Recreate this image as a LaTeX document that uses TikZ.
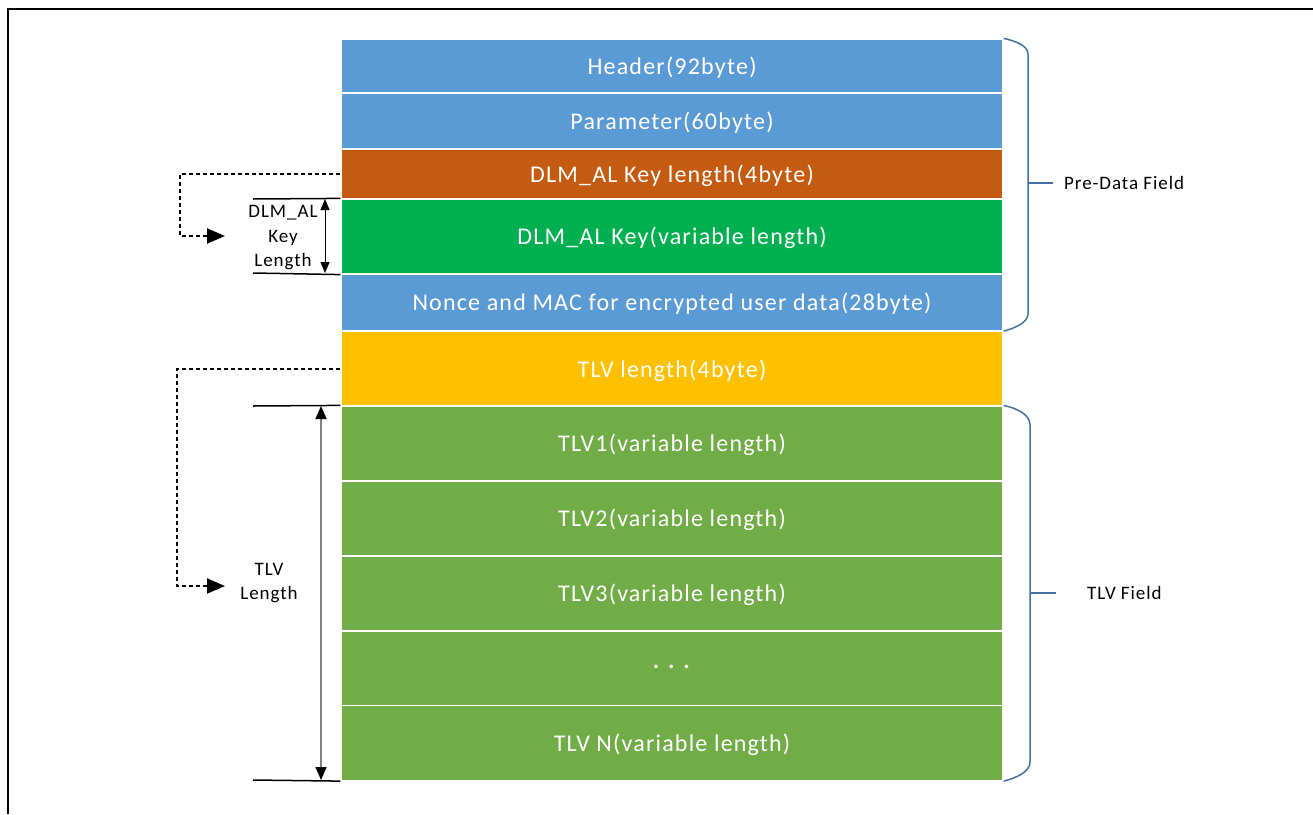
\documentclass[tikz,border=0pt]{standalone}
\usepackage{fontspec}
\setmainfont{Carlito}
\newfontfamily\boxfont[LetterSpace=5]{Carlito}
\usetikzlibrary{arrows.meta,calc}
\definecolor{cblue}{HTML}{5B9BD5}
\definecolor{corange}{HTML}{C55A11}
\definecolor{cgreen}{HTML}{00B050}
\definecolor{cyellow}{HTML}{FFC000}
\definecolor{cgreen2}{HTML}{70AD47}
\definecolor{cbrace}{HTML}{41719C}
\definecolor{cgray}{HTML}{808080}
\tikzset{
  row/.style={draw=white, line width=1.2pt, text=white, minimum width=662pt, inner sep=0pt, text height=16pt, text depth=0pt, font=\boxfont\fontsize{24}{28}\selectfont},
  lbl/.style={font=\boxfont\fontsize{19}{24.5}\selectfont, inner sep=0pt, align=center},
  dashconn/.style={line width=2pt, dash pattern=on 4pt off 3pt, -{Triangle[length=18pt,width=15pt]}},
  refline/.style={line width=1.5pt},
  dimarrow/.style={line width=1pt, {Triangle[length=11pt,width=9pt]}-{Triangle[length=11pt,width=9pt]}},
  dimarrowg/.style={line width=1.5pt, draw=cgray, {Triangle[length=13pt,width=11pt,color=black]}-{Triangle[length=13pt,width=11pt,color=black]}},
  bracestyle/.style={draw=cbrace, line width=1.5pt},
}
\begin{document}
\begin{tikzpicture}[x=1pt,y=-1pt]
\useasboundingbox (0,0) rectangle (1313,814);
\draw[line width=2pt] (8,814) -- (8,9) -- (1313,9);

% rows
\node[row, fill=cblue, minimum height=54pt] (hdr) at (672,66) {Header(92byte)};
\node[row, fill=cblue, minimum height=56pt] (par) at (672,121) {Parameter(60byte)};
\node[row, fill=corange, minimum height=50pt] (kl) at (672,174) {DLM\_AL Key length(4byte)};
\node[row, fill=cgreen, minimum height=75pt] (key) at (672,236.5) {DLM\_AL Key(variable length)};
\node[row, fill=cblue, minimum height=56pt] (nonce) at (672,302.5) {Nonce and MAC for encrypted user data(28byte)};
\node[row, fill=cyellow, minimum height=75pt] (tlvl) at (672,369) {TLV length(4byte)};
\node[row, fill=cgreen2, minimum height=75pt] (t1) at (672,443.5) {TLV1(variable length)};
\node[row, fill=cgreen2, minimum height=75pt] (t2) at (672,518.5) {TLV2(variable length)};
\node[row, fill=cgreen2, minimum height=75pt] (t3) at (672,593.5) {TLV3(variable length)};
\node[row, fill=cgreen2, minimum height=75pt] (tdots) at (672,668.5) {\raisebox{8pt}{\textbf{. . .}}};
\node[row, fill=cgreen2, minimum height=75pt] (tn) at (672,743) {TLV N(variable length)};

% DLM_AL key length annotation
\coordinate (k1) at (253,199);
\coordinate (k2) at (253,273);
\draw[refline] (k1) -- (key.north west);
\draw[refline] (k2) -- (key.south west);
\draw[dimarrow] (325,199) -- (325,273);
\node[lbl] (klab) at (283,238) {DLM\_AL\\Key\\Length};
\coordinate (a1) at (225,236);
\draw[dashconn] (kl.west) -| (180,236) -- (a1);

% TLV length annotation
\coordinate (l1) at (253,406);
\coordinate (l2) at (253,780);
\draw[refline] (l1) -- (t1.north west);
\draw[refline] (l2) -- (tn.south west);
\draw[dimarrowg] (321,406) -- (321,780);
\node[lbl] (tlab) at (269,583) {TLV\\Length};
\coordinate (a2) at (225,586);
\draw[dashconn] (tlvl.west) -| (177,586) -- (a2);

% braces
\draw[bracestyle] (hdr.north east) .. controls (1016,41) and (1028,46) .. (1028,54) -- (1028,314) .. controls (1028,322) and (1016,328) .. (nonce.south east);
\draw[bracestyle] (1028,183) -- (1053,183);
\node[lbl, anchor=west] (pre) at (1064,183) {Pre-Data Field};

\draw[bracestyle] (t1.north east) .. controls (1016,408) and (1030,414) .. (1030,425) -- (1030,762) .. controls (1030,772) and (1016,778) .. (tn.south east);
\draw[bracestyle] (1030,593) -- (1056,593);
\node[lbl, anchor=west] (tlvf) at (1087,593) {TLV Field};
\end{tikzpicture}
\end{document}
